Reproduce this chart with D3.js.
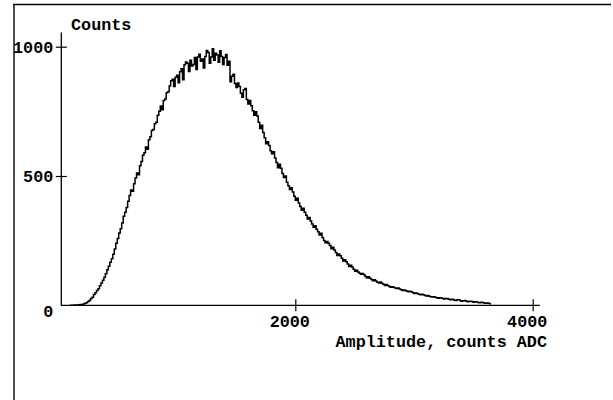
<!DOCTYPE html>
<html>
<head>
<meta charset="utf-8">
<script src="https://cdn.jsdelivr.net/npm/d3@7"></script>
<style>
  html, body { margin: 0; padding: 0; background: #fff; }
  svg { display: block; }
  text { font-family: "Liberation Mono", "DejaVu Sans Mono", monospace; font-weight: bold; font-size: 16.8px; fill: #000; }
</style>
</head>
<body>
<svg id="chart" width="613" height="400"></svg>
<script>
// ---- data ----
const binStart = 100;      // ADC of first bin
const binWidth = 12.5;     // ADC per bin
const counts = [
  0, 0,   0, 1,   1, 1,   2, 3,   3, 5,   8, 10,  15, 19,  26, 31,  42, 49,  57, 64,
  76, 86,  97, 108,  122, 137,  151, 166,  180, 197,  218, 240,  258, 280,  296, 318,  344, 360,  378, 402,
  425, 446,  441, 470,  492, 512,  505, 540,  556, 580,  590, 612,  603, 640,  652, 676,  680, 702,  708, 735,
  750, 771,  756, 792,  798, 822,  826, 848,  868, 874,  846, 882,  890, 861,  903, 915,  872, 930,
  941, 936,  904, 948,  925, 931,  958, 912,  960, 971,  944, 952,  918, 962,  985, 978,  936, 960,  992, 948,
  975, 968,  940, 984,  962, 931,  958, 970,  928, 944,  864, 886,  893, 858,  842, 860,  846, 820,  805, 834,
  838, 796,  778, 792,  772, 752,  735, 748,  732, 708,  684, 696,  668, 648,  625, 632,  618, 598,  586, 594,
  570, 552,  532, 545,  530, 510,  494, 500,  476, 462,  448, 455,  438, 422,  406, 414,  396, 382,  368, 375,
  360, 348,  334, 340,  326, 314,  302, 308,  294, 284,  272, 279,  262, 251,  242, 247,  240, 231,  219, 224,
  214, 204,  193, 198,  192, 182,  171, 176,  168, 160,  150, 155,  148, 139,  132, 136,  129, 124,  120, 123,
  118, 111,  106, 110,  105, 100,  95, 99,  94, 89,  86, 90,  85, 81,  77, 80,  77, 73,  70, 72,
  70, 67,  65, 67,  63, 60,  57, 59,  57, 54,  52, 54,  52, 49,  46, 48,  46, 43,  41, 43,
  41, 38,  36, 38,  35, 33,  32, 33,  31, 29,  27, 29,  28, 26,  24, 26,  26, 23,  21, 23,
  22, 20,  19, 21,  21, 18,  16, 18,  19, 16,  14, 16,  16, 14,  12, 14,  13, 11,  10, 12,
  11, 9,  8, 9,  8, 6
];
const xTicks = [2000, 4000];
const yTicks = [0, 500, 1000];
const xAxisExtent = [25, 4060];
const yAxisExtent = [0, 1055];
const xTitle = "Amplitude, counts ADC";
const yTitle = "Counts";

// ---- build bins ----
const bins = counts.map((c, i) => ({ x0: binStart + i * binWidth, c }));
const stepData = bins.concat([{ x0: binStart + counts.length * binWidth, c: counts[counts.length - 1] }]);

const svg = d3.select("#chart");

// frame
svg.append("line").attr("x1", 13).attr("x2", 611).attr("y1", 4.5).attr("y2", 4.5)
  .attr("stroke", "#000").attr("stroke-width", 1.7);
svg.append("line").attr("x1", 14).attr("x2", 14).attr("y1", 4).attr("y2", 400)
  .attr("stroke", "#000").attr("stroke-width", 1.4);

const x = d3.scaleLinear().domain([0, 4000]).range([57.9, 532.7]);
const y = d3.scaleLinear().domain([0, 1000]).range([305.3, 46.7]);

// axis lines
svg.append("line").attr("x1", x(xAxisExtent[0])).attr("x2", x(xAxisExtent[1]))
  .attr("y1", y(0)).attr("y2", y(0)).attr("stroke", "#000").attr("stroke-width", 1.3);
svg.append("line").attr("x1", 61.3).attr("x2", 61.3)
  .attr("y1", y(yAxisExtent[0])).attr("y2", y(yAxisExtent[1])).attr("stroke", "#000").attr("stroke-width", 1.3);

// x axis ticks
const gx = svg.append("g").attr("transform", `translate(0,${y(0)})`)
  .call(d3.axisBottom(x).tickValues(xTicks).tickSize(6).tickFormat(d3.format("d")));
gx.select(".domain").remove();
gx.selectAll(".tick line").attr("y1", -6).attr("y2", 6).attr("stroke", "#000").attr("stroke-width", 1.2);
gx.selectAll(".tick text").attr("y", 22.2).attr("dy", null).attr("dx", -6)
  .attr("font-family", null).attr("font-size", null);

// y axis ticks
const gy = svg.append("g").attr("transform", `translate(61.3,0)`)
  .call(d3.axisLeft(y).tickValues(yTicks).tickSize(6).tickFormat(d3.format("d")));
gy.select(".domain").remove();
gy.selectAll(".tick line").attr("x1", -5.5).attr("x2", 5.5).attr("stroke", "#000").attr("stroke-width", 1.2)
  .style("display", d => d === 0 ? "none" : null);
gy.selectAll(".tick text").attr("x", -8).attr("dy", null)
  .attr("y", d => d === 0 ? 11.3 : 5.4)
  .attr("font-family", null).attr("font-size", null);

// titles
svg.append("text").attr("x", 547).attr("y", 346.6).attr("text-anchor", "end").text(xTitle);
svg.append("text").attr("x", 71).attr("y", 30).text(yTitle);

// histogram step line
const line = d3.line().x(d => x(d.x0)).y(d => y(d.c)).curve(d3.curveStepAfter);
svg.append("path").datum(stepData).attr("d", line)
  .attr("fill", "none").attr("stroke", "#000").attr("stroke-width", 1.5);
</script>
</body>
</html>
